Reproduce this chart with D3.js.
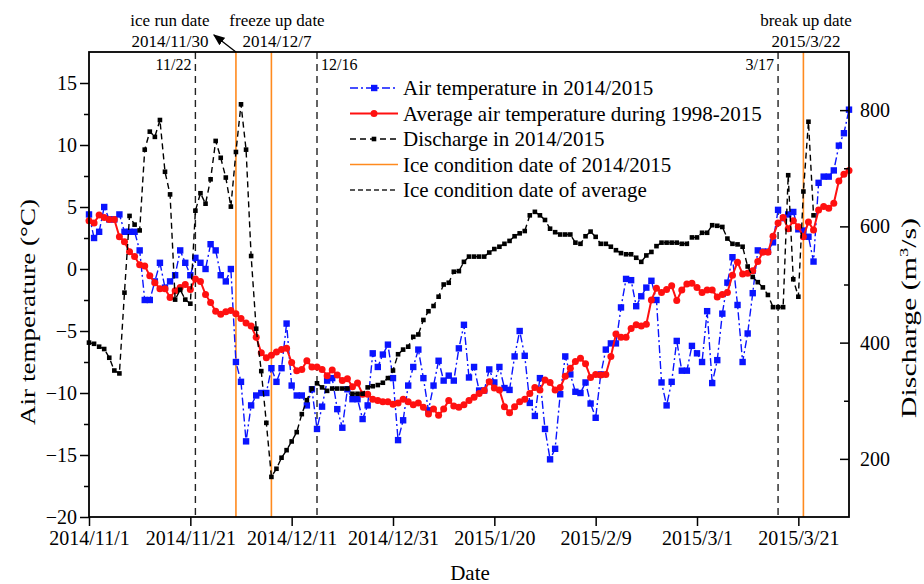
<!DOCTYPE html>
<html>
<head>
<meta charset="utf-8">
<script src="https://cdn.jsdelivr.net/npm/d3@7"></script>
<style>
  body { margin: 0; background: #fff; }
  svg { display: block; font-family: "Times New Roman", "Liberation Serif", serif; }
</style>
</head>
<body>
<svg id="chart" width="924" height="584"></svg>
<script>
// daily series, first value is 2014-11-01
const startDate = '2014-11-01';
const endDate = '2015-03-31';

const airTemp = [
  4.4, 2.5, 3.0, 5.0, 4.0, 4.0, 4.4, 3.0, 3.0, 3.0,
  1.5, -2.5, -2.5, -1.0, 0.5, -1.5, -1.0, -0.5, 1.5, 0.5,
  -0.5, 0.9, 0.5, 0.0, 2.0, 1.5, -0.5, -1.0, 0.0, -7.5,
  -9.1, -13.9, -11.0, -10.2, -10.0, -10.0, -8.0, -9.1, -8.0, -4.4,
  -9.4, -10.2, -10.2, -11.0, -9.7, -12.9, -11.1, -9.0, -8.8, -11.3,
  -12.8, -9.7, -10.5, -10.5, -12.1, -11.0, -6.8, -7.9, -6.9, -6.1,
  -8.8, -13.8, -12.2, -9.4, -7.9, -6.5, -8.8, -11.4, -9.4, -7.4,
  -9.0, -8.6, -9.0, -6.4, -4.5, -8.75, -7.9, -9.8, -9.8, -8.1,
  -9.15, -7.9, -9.6, -9.75, -7.05, -5.0, -7.0, -10.8, -11.85, -8.8,
  -12.9, -15.35, -14.5, -10.1, -7.05, -8.5, -9.9, -10.0, -9.15, -10.85,
  -12.0, -8.5, -6.5, -6.0, -6.0, -3.1, -0.8, -0.9, -3.0, -2.2,
  -1.5, -0.95, -2.5, -9.15, -11.0, -9.1, -5.8, -8.2, -8.2, -6.2,
  -6.8, -7.5, -3.4, -9.2, -7.35, -3.6, -1.1, 0.95, -2.9, -7.5,
  -5.2, -1.95, 1.5, 1.4, 1.4, 2.15, 4.77, 4.1, 4.4, 4.6,
  3.2, 3.1, 2.6, 0.6, 6.95, 7.45, 7.45, 7.95, 9.95, 10.95,
  12.85
];

const avgTemp = [
  3.9, 3.7, 4.35, 4.15, 4.0, 4.0, 2.6, 2.2, 1.4, 1.0,
  0.35, 0.25, -0.55, -1.1, -1.6, -1.6, -2.3, -1.75, -1.5, -1.25,
  -1.65, -0.8, -1.0, -2.05, -2.7, -3.4, -3.65, -3.45, -3.35, -3.6,
  -4.0, -4.35, -4.6, -5.5, -6.75, -7.15, -6.95, -6.7, -6.5, -6.4,
  -7.55, -8.2, -8.1, -7.4, -7.9, -7.9, -8.1, -8.6, -8.15, -8.55,
  -9.0, -8.85, -9.5, -9.2, -10.1, -10.1, -10.5, -10.6, -10.7, -10.7,
  -10.9, -10.8, -10.5, -10.7, -10.95, -10.8, -11.15, -11.7, -11.3, -11.8,
  -11.3, -10.6, -11.05, -11.15, -10.95, -10.6, -10.35, -10.05, -9.8, -9.1,
  -9.6, -9.75, -11.1, -11.6, -11.1, -10.7, -10.5, -10.05, -9.55, -9.75,
  -8.95, -9.15, -9.75, -9.55, -8.65, -8.0, -7.45, -7.2, -7.65, -8.75,
  -8.5, -8.55, -8.5, -7.05, -5.25, -5.5, -5.5, -4.8, -4.5, -4.6,
  -4.45, -2.5, -1.55, -1.9, -1.65, -1.35, -2.55, -1.7, -1.2, -1.15,
  -1.5, -1.9, -1.7, -1.7, -2.25, -2.05, -1.9, -0.5, 0.55, -0.4,
  -0.35, -0.15, 0.6, 1.35, 1.35, 2.65, 3.7, 4.15, 3.25, 3.9,
  3.4, 2.6, 3.8, 3.15, 4.75, 5.05, 4.9, 5.3, 7.1, 7.65,
  7.95
];

const discharge = [
  400, 398, 393, 389, 374, 352, 347, 486, 618, 603,
  593, 732, 763, 754, 783, 694, 655, 474, 491, 474,
  467, 627, 657, 639, 681, 747, 718, 684, 634, 728,
  810, 732, 549, 424, 351, 262, 169, 183, 202, 215,
  230, 246, 277, 301, 321, 330, 323, 317, 321, 321,
  321, 321, 312, 312, 312, 323, 325, 327, 331, 339,
  352, 380, 388, 393, 410, 414, 439, 454, 463, 479,
  500, 503, 522, 523, 539, 548, 548, 548, 548, 555,
  561, 565, 570, 575, 583, 588, 592, 619, 625, 619,
  611, 596, 590, 586, 586, 586, 572, 570, 583, 591,
  582, 570, 570, 565, 559, 554, 552, 552, 546, 539,
  550, 556, 566, 572, 572, 572, 572, 570, 570, 581,
  581, 589, 589, 602, 601, 599, 579, 570, 569, 565,
  531, 513, 504, 495, 482, 461, 461, 461, 688, 509,
  479, 660, 780, 619
];

const xTickLabels = ['2014/11/1', '2014/11/21', '2014/12/11', '2014/12/31',
  '2015/1/20', '2015/2/9', '2015/3/1', '2015/3/21'];
const tempTicks = [-20, -15, -10, -5, 0, 5, 10, 15];
const tempMinor = [-17.5, -12.5, -7.5, -2.5, 2.5, 7.5, 12.5];
const dischargeTicks = [200, 400, 600, 800];
const dischargeMinor = [300, 500, 700];

const iceDates = ['2014-11-30', '2014-12-07', '2015-03-22'];
const iceNotes = [['ice run date', '2014/11/30'], ['freeze up date', '2014/12/7'], ['break up date', '2015/3/22']];
const avgIceDates = ['2014-11-22', '2014-12-16', '2015-03-17'];
const avgIceLabels = ['11/22', '12/16', '3/17'];

const legendLabels = [
  'Air temperature in 2014/2015',
  'Average air temperature during 1998-2015',
  'Discharge in 2014/2015',
  'Ice condition date of 2014/2015',
  'Ice condition date of average'
];

const BLUE = '#0a14ff', RED = '#ff1010', ORANGE = '#ff8a1e';

const plot = {left: 89, right: 849, top: 52, bottom: 517};
const parse = d3.utcParse('%Y-%m-%d');
const parseTick = d3.utcParse('%Y/%m/%d');
const start = parse(startDate);
const day = i => d3.utcDay.offset(start, i);

const x = d3.scaleUtc().domain([start, parse(endDate)]).range([plot.left, plot.right]);
const yT = d3.scaleLinear().domain([-20, 17.5]).range([plot.bottom, plot.top]);
const yQ = d3.scaleLinear().domain([100, 900]).range([plot.bottom, plot.top]);

const svg = d3.select('#chart');

// vertical ice date lines
svg.append('g').selectAll('line').data(avgIceDates).join('line')
  .attr('x1', d => x(parse(d))).attr('x2', d => x(parse(d)))
  .attr('y1', plot.top).attr('y2', plot.bottom)
  .attr('stroke', '#222').attr('stroke-width', 1.4).attr('stroke-dasharray', '7,5');

svg.append('g').selectAll('line').data(iceDates).join('line')
  .attr('x1', d => x(parse(d))).attr('x2', d => x(parse(d)))
  .attr('y1', plot.top).attr('y2', plot.bottom)
  .attr('stroke', ORANGE).attr('stroke-width', 1.6);

// series
const airLine = d3.line().x((d, i) => x(day(i))).y(d => yT(d));
const qLine = d3.line().x((d, i) => x(day(i))).y(d => yQ(d));

svg.append('path').datum(airTemp)
  .attr('d', airLine).attr('fill', 'none')
  .attr('stroke', BLUE).attr('stroke-width', 1.4).attr('stroke-dasharray', '8,3,2,3');
svg.append('g').selectAll('rect').data(airTemp).join('rect')
  .attr('x', (d, i) => x(day(i)) - 3.2).attr('y', d => yT(d) - 3.2)
  .attr('width', 6.4).attr('height', 6.4).attr('fill', BLUE);

svg.append('path').datum(avgTemp)
  .attr('d', airLine).attr('fill', 'none')
  .attr('stroke', RED).attr('stroke-width', 2);
svg.append('g').selectAll('circle').data(avgTemp).join('circle')
  .attr('cx', (d, i) => x(day(i))).attr('cy', d => yT(d))
  .attr('r', 3.5).attr('fill', RED);

svg.append('path').datum(discharge)
  .attr('d', qLine).attr('fill', 'none')
  .attr('stroke', '#000').attr('stroke-width', 1.4).attr('stroke-dasharray', '6,4');
svg.append('g').selectAll('rect').data(discharge).join('rect')
  .attr('x', (d, i) => x(day(i)) - 2.3).attr('y', d => yQ(d) - 2.3)
  .attr('width', 4.6).attr('height', 4.6).attr('fill', '#000');

// axes
const styleAxis = g => {
  g.select('.domain').remove();
  g.selectAll('line').attr('stroke', '#000').attr('stroke-width', 1.5);
  g.selectAll('text').attr('font-size', 20).attr('fill', '#000')
    .attr('font-family', '"Times New Roman", "Liberation Serif", serif');
};

svg.append('g').attr('transform', `translate(${plot.left},0)`)
  .call(d3.axisLeft(yT).tickValues(tempTicks).tickSize(9).tickPadding(3))
  .call(styleAxis);
svg.append('g').attr('transform', `translate(${plot.left},0)`)
  .call(d3.axisLeft(yT).tickValues(tempMinor).tickSize(5).tickFormat(''))
  .call(styleAxis);

svg.append('g').attr('transform', `translate(${plot.right},0)`)
  .call(d3.axisRight(yQ).tickValues(dischargeTicks).tickSizeInner(-9).tickSizeOuter(0).tickPadding(11))
  .call(styleAxis);
svg.append('g').attr('transform', `translate(${plot.right},0)`)
  .call(d3.axisRight(yQ).tickValues(dischargeMinor).tickSizeInner(-5).tickSizeOuter(0).tickFormat(''))
  .call(styleAxis);

svg.append('g').attr('transform', `translate(0,${plot.bottom})`)
  .call(d3.axisBottom(x).tickValues(xTickLabels.map(parseTick)).tickSize(9).tickPadding(5)
    .tickFormat(d3.utcFormat('%Y/%-m/%-d')))
  .call(styleAxis);

// frame
svg.append('rect')
  .attr('x', plot.left).attr('y', plot.top)
  .attr('width', plot.right - plot.left).attr('height', plot.bottom - plot.top)
  .attr('fill', 'none').attr('stroke', '#000').attr('stroke-width', 1.8);

// axis titles
svg.append('text').attr('x', 470).attr('y', 580).attr('text-anchor', 'middle')
  .attr('font-size', 21).text('Date');
svg.append('text').attr('transform', 'translate(35,312) rotate(-90)').attr('text-anchor', 'middle')
  .attr('font-size', 21).attr('textLength', 226).attr('lengthAdjust', 'spacingAndGlyphs')
  .text('Air temperature (°C)');
const qTitle = svg.append('text').attr('transform', 'translate(916,318) rotate(-90)')
  .attr('text-anchor', 'middle').attr('font-size', 21)
  .attr('textLength', 200).attr('lengthAdjust', 'spacingAndGlyphs');
qTitle.append('tspan').text('Discharge (m');
qTitle.append('tspan').attr('font-size', 13).attr('dy', -8).text('3');
qTitle.append('tspan').attr('dy', 8).text('/s)');

// annotations for ice dates
const noteX = [170, 277, 806];
iceNotes.forEach((n, i) => {
  const t = svg.append('text').attr('text-anchor', 'middle').attr('font-size', 17);
  t.append('tspan').attr('x', noteX[i]).attr('y', 26).text(n[0]);
  t.append('tspan').attr('x', noteX[i]).attr('y', 47).text(n[1]);
});

svg.append('defs').append('marker')
  .attr('id', 'arrow').attr('viewBox', '0 0 10 10').attr('refX', 9).attr('refY', 5)
  .attr('markerWidth', 9).attr('markerHeight', 9).attr('orient', 'auto-start-reverse')
  .append('path').attr('d', 'M0,1 L10,5 L0,9 Z').attr('fill', '#000');
const ax = x(parse(iceDates[0]));
svg.append('line')
  .attr('x1', ax).attr('y1', plot.top).attr('x2', ax - 22).attr('y2', plot.top - 17)
  .attr('stroke', '#000').attr('stroke-width', 1.3).attr('marker-end', 'url(#arrow)');

avgIceLabels.forEach((lab, i) => {
  const lx = x(parse(avgIceDates[i]));
  const right = i === 1;
  svg.append('text')
    .attr('x', right ? lx + 4 : lx - 4).attr('y', 70)
    .attr('text-anchor', right ? 'start' : 'end')
    .attr('font-size', 16).text(lab);
});

// legend
const leg = svg.append('g');
const lx0 = 350, lx1 = 398, ly0 = 88, ldy = 25.5;
legendLabels.forEach((lab, i) => {
  const ly = ly0 + i * ldy;
  const ln = leg.append('line').attr('x1', lx0).attr('x2', lx1).attr('y1', ly).attr('y2', ly);
  if (i === 0) ln.attr('stroke', BLUE).attr('stroke-width', 1.4).attr('stroke-dasharray', '8,3,2,3');
  if (i === 1) ln.attr('stroke', RED).attr('stroke-width', 2);
  if (i === 2) ln.attr('stroke', '#000').attr('stroke-width', 1.4).attr('stroke-dasharray', '6,4');
  if (i === 3) ln.attr('stroke', ORANGE).attr('stroke-width', 1.6);
  if (i === 4) ln.attr('stroke', '#222').attr('stroke-width', 1.4).attr('stroke-dasharray', '5,3');
  if (i === 0) leg.append('rect').attr('x', 371).attr('y', ly - 3.2).attr('width', 6.4).attr('height', 6.4).attr('fill', BLUE);
  if (i === 1) leg.append('circle').attr('cx', 374).attr('cy', ly).attr('r', 3.5).attr('fill', RED);
  if (i === 2) leg.append('rect').attr('x', 371.7).attr('y', ly - 2.3).attr('width', 4.6).attr('height', 4.6).attr('fill', '#000');
  leg.append('text').attr('x', 403).attr('y', ly).attr('dy', '0.35em')
    .attr('font-size', 21).text(lab);
});
</script>
</body>
</html>
